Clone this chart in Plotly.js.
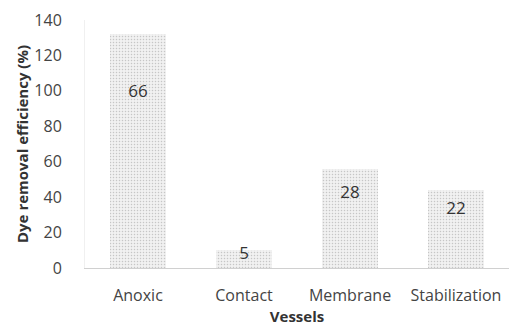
<!DOCTYPE html>
<html><head><meta charset="utf-8">
<script src="https://cdn.plot.ly/plotly-3.0.1.min.js"></script>
<style>html,body{margin:0;padding:0;background:#fff}#c{width:513px;height:328px}</style>
</head><body><div id="c"></div>
<script>
const categories = ["Anoxic", "Contact", "Membrane", "Stabilization"];
const efficiency = [66, 5, 28, 22];
const yTicks = [0, 20, 40, 60, 80, 100, 120, 140];

const fnt = "'Open Sans', sans-serif";
const barStyle = {color: "#ececec", pattern: {shape: ".", fgcolor: "#c6c6c6", bgcolor: "#f1f1f1", size: 3, solidity: 0.2}, line: {width: 0}};

// Two identical stacked series (as in the source chart); labels sit centred on the upper segment.
const traces = [
  {type: "bar", x: categories, y: efficiency, marker: barStyle, hoverinfo: "none"},
  {type: "bar", x: categories, y: efficiency, marker: barStyle, hoverinfo: "none"},
  {type: "scatter", mode: "text", x: categories, y: efficiency.map(v => v + v / 2),
   text: efficiency.map(String), textposition: "middle center", cliponaxis: false,
   textfont: {family: fnt, size: 17, color: "#333"}, hoverinfo: "none"}
];

const layout = {
  width: 513, height: 328,
  margin: {l: 85, r: 4, t: 20, b: 60},
  barmode: "stack", bargap: 0.48, showlegend: false,
  paper_bgcolor: "#fff", plot_bgcolor: "#fff",
  font: {family: fnt, color: "#444"},
  xaxis: {
    showgrid: false, showline: true, linecolor: "#d0d0d0", linewidth: 1,
    ticks: "", tickfont: {family: fnt, size: 16, color: "#444"}, ticklabelstandoff: 13,
    title: {text: "<b>Vessels</b>", font: {family: fnt, size: 15, color: "#333"}, standoff: 4}
  },
  yaxis: {
    range: [0, 140], tickvals: yTicks, ticktext: yTicks.map(String),
    showgrid: false, zeroline: false, showline: true, linecolor: "#f0f0f0",
    ticks: "", tickfont: {family: fnt, size: 16, color: "#444"}, ticklabelstandoff: 19,
    title: {text: "<b>Dye removal efficiency (%)</b>", font: {family: fnt, size: 15, color: "#333"}, standoff: 2}
  }
};
Plotly.newPlot("c", traces, layout, {displayModeBar: false, staticPlot: true});
</script></body></html>
